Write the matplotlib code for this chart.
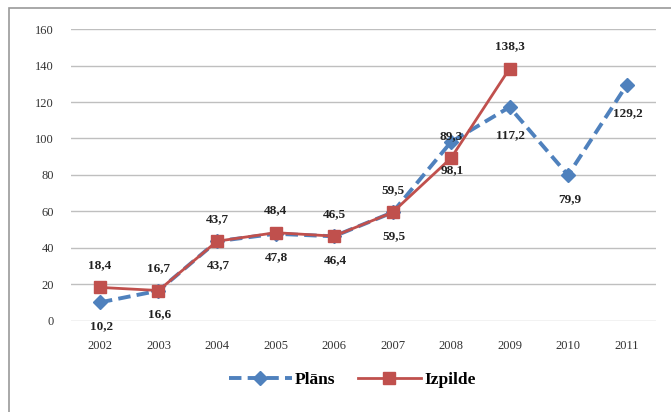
import matplotlib
matplotlib.use('Agg')
import matplotlib.pyplot as plt
from matplotlib.patches import Rectangle

years = ['2002', '2003', '2004', '2005', '2006', '2007', '2008', '2009', '2010', '2011']
plans = [10.2, 16.6, 43.7, 47.8, 46.4, 59.5, 98.1, 117.2, 79.9, 129.2]
izpilde = [18.4, 16.7, 43.7, 48.4, 46.5, 59.5, 89.3, 138.3]

BLUE = '#4F81BD'
RED = '#C0504D'

plt.rcParams['font.family'] = ['Liberation Serif', 'DejaVu Serif']

fig = plt.figure(figsize=(6.71, 4.12), dpi=100)
ax = fig.add_axes([0.1054, 0.2209, 0.872, 0.7087])

# outer chart border
fig.patches.append(Rectangle((0.014, -0.01), 1.0, 0.99, transform=fig.transFigure,
                             fill=False, edgecolor='#9a9a9a', linewidth=1.2))

x = list(range(len(years)))
ax.plot(x, plans, color=BLUE, linestyle=(0, (3.2, 1.6)), linewidth=2.8,
        marker='D', markersize=7, label='Plāns', zorder=3)
ax.plot(x[:len(izpilde)], izpilde, color=RED, linewidth=2.0,
        marker='s', markersize=8, label='Izpilde', zorder=4)

for xi, v in zip(x, plans):
    dy = -17 if v < 90 else -20
    ax.annotate(f'{v:.1f}'.replace('.', ','), (xi, v), xytext=(1, dy),
                textcoords='offset points', ha='center', va='center',
                fontsize=9.5, fontweight='bold', color='#222222', zorder=5)
for xi, v in zip(x, izpilde):
    ax.annotate(f'{v:.1f}'.replace('.', ','), (xi, v), xytext=(0, 16),
                textcoords='offset points', ha='center', va='center',
                fontsize=9.5, fontweight='bold', color='#222222', zorder=5)

ax.set_xlim(-0.5, len(years) - 0.5)
ax.set_ylim(0, 160)
ax.set_yticks(range(0, 161, 20))
ax.set_xticks(x)
ax.set_xticklabels(years)
ax.grid(axis='y', color='#bfbfbf', linewidth=1.0)
ax.set_axisbelow(True)
for s in ax.spines.values():
    s.set_visible(False)
ax.tick_params(length=0, labelsize=9, colors='#333333')
ax.tick_params(axis='y', pad=12)
ax.tick_params(axis='x', pad=14)

fig.legend(loc='center', bbox_to_anchor=(0.525, 0.078), ncol=2, frameon=False,
           prop={'size': 12.5, 'weight': 'bold'}, handlelength=3.6, columnspacing=1.3,
           handletextpad=0.2)

fig.savefig('out.png', dpi=100)
